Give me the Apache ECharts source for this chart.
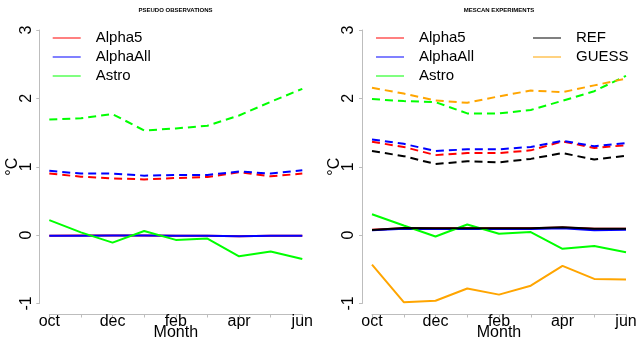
<!DOCTYPE html>
<html>
<head>
<meta charset="utf-8">
<script src="https://cdn.jsdelivr.net/npm/echarts@6/dist/echarts.min.js"></script>
<style>
html,body{margin:0;padding:0;background:#fff;}
#chart{width:636px;height:340px;}
</style>
</head>
<body>
<div id="chart"></div>
<script>
// ---- data ----
var months = ['oct', 'nov', 'dec', 'jan', 'feb', 'mar', 'apr', 'may', 'jun'];
var yTicks = [-1, 0, 1, 2, 3];
var seriesNames = ['Alpha5', 'AlphaAll', 'Astro', 'REF', 'GUESS'];
var panelTitles = ['PSEUDO OBSERVATIONS', 'MESCAN EXPERIMENTS'];
var xAxisTitle = 'Month';
var yAxisTitle = '°C';

// Pseudo observations (left panel)
var obsAlpha5Dashed   = [0.90, 0.855, 0.83, 0.815, 0.835, 0.85, 0.92, 0.86, 0.90];
var obsAlphaAllDashed = [0.94, 0.90, 0.90, 0.87, 0.88, 0.88, 0.93, 0.90, 0.95];
var obsAstroDashed    = [1.69, 1.71, 1.77, 1.53, 1.56, 1.60, 1.75, 1.95, 2.14];
var obsAlpha5Solid    = [-0.01, -0.005, -0.005, -0.005, -0.01, -0.01, -0.015, -0.01, -0.01];
var obsAlphaAllSolid  = [-0.01, -0.01, -0.005, -0.005, -0.01, -0.01, -0.015, -0.01, -0.01];
var obsAstroSolid     = [0.22, 0.04, -0.11, 0.06, -0.07, -0.05, -0.31, -0.24, -0.35];

// MESCAN experiments (right panel)
var mesAlpha5Dashed   = [1.365, 1.29, 1.17, 1.20, 1.20, 1.24, 1.37, 1.275, 1.315];
var mesAlphaAllDashed = [1.40, 1.335, 1.23, 1.255, 1.255, 1.29, 1.38, 1.30, 1.345];
var mesAstroDashed    = [1.99, 1.96, 1.945, 1.78, 1.78, 1.83, 1.965, 2.105, 2.33];
var mesRefDashed      = [1.23, 1.155, 1.04, 1.08, 1.065, 1.115, 1.20, 1.105, 1.16];
var mesGuessDashed    = [2.155, 2.07, 1.97, 1.935, 2.03, 2.115, 2.09, 2.19, 2.29];
var mesAlpha5Solid    = [0.08, 0.10, 0.10, 0.10, 0.10, 0.10, 0.11, 0.095, 0.095];
var mesAlphaAllSolid  = [0.07, 0.095, 0.09, 0.09, 0.09, 0.09, 0.10, 0.07, 0.08];
var mesAstroSolid     = [0.305, 0.14, -0.02, 0.155, 0.02, 0.045, -0.20, -0.16, -0.25];
var mesRefSolid       = [0.075, 0.105, 0.10, 0.10, 0.10, 0.10, 0.115, 0.095, 0.095];
var mesGuessSolid     = [-0.43, -0.98, -0.96, -0.78, -0.87, -0.74, -0.45, -0.64, -0.65];

// ---- styling ----
var colors = {Alpha5: '#ff0000', AlphaAll: '#0000ff', Astro: '#00ff00', REF: '#000000', GUESS: '#ffa500'};
var FONT = 'Liberation Sans, Arial, Helvetica, sans-serif';
var AXIS_GRAY = '#bdbdbd';
var DASH = [8, 5];

function mkSeries(name, data, dashed, idx) {
  return {
    type: 'line', name: name, data: data,
    xAxisIndex: idx, yAxisIndex: idx,
    symbol: 'none', smooth: false,
    itemStyle: {color: colors[name]},
    lineStyle: {color: colors[name], width: 2, type: dashed ? DASH : 'solid', cap: 'butt'},
    emphasis: {disabled: true},
    silent: true
  };
}

function mkX(idx) {
  return {
    type: 'category', gridIndex: idx, data: months, boundaryGap: false,
    offset: 11,
    axisLine: {show: true, onZero: false, lineStyle: {color: AXIS_GRAY, width: 1}},
    axisTick: {show: true, interval: 0, length: 3, lineStyle: {color: AXIS_GRAY}},
    axisLabel: {interval: 1, color: '#000', fontSize: 16, fontFamily: FONT, margin: -1},
    splitLine: {show: false},
    name: xAxisTitle, nameLocation: 'middle', nameGap: 10, nameMoveOverlap: false,
    nameTextStyle: {color: '#000', fontSize: 16, fontFamily: FONT}
  };
}
function mkY(idx) {
  return {
    type: 'value', gridIndex: idx, min: yTicks[0], max: yTicks[yTicks.length - 1], interval: 1,
    offset: 10,
    axisLine: {show: true, onZero: false, lineStyle: {color: AXIS_GRAY, width: 1}},
    axisTick: {show: true, length: 3, lineStyle: {color: AXIS_GRAY}},
    axisLabel: {rotate: 90, color: '#000', fontSize: 16, fontFamily: FONT, margin: 5},
    splitLine: {show: false},
    name: yAxisTitle, nameLocation: 'middle', nameRotate: 90, nameGap: 19, nameMoveOverlap: false,
    nameTextStyle: {color: '#000', fontSize: 16, fontFamily: FONT}
  };
}
function mkLegend(names, left) {
  return {
    data: names, orient: 'vertical', left: left, top: 30.5, padding: 0,
    icon: 'rect', itemWidth: 28, itemHeight: 1, itemGap: 4,
    selectedMode: false,
    textStyle: {color: '#000', fontSize: 15, fontFamily: FONT, padding: [0, 0, 0, 10]}
  };
}

var series = [];
var obsDashed = [obsAlpha5Dashed, obsAlphaAllDashed, obsAstroDashed];
var obsSolid = [obsAlpha5Solid, obsAlphaAllSolid, obsAstroSolid];
for (var i = 0; i < 3; i++) {
  series.push(mkSeries(seriesNames[i], obsDashed[i], true, 0));
  series.push(mkSeries(seriesNames[i], obsSolid[i], false, 0));
}
var mesDashed = [mesAlpha5Dashed, mesAlphaAllDashed, mesAstroDashed, mesRefDashed, mesGuessDashed];
var mesSolid = [mesAlpha5Solid, mesAlphaAllSolid, mesAstroSolid, mesRefSolid, mesGuessSolid];
for (var j = 0; j < 5; j++) {
  series.push(mkSeries(seriesNames[j], mesDashed[j], true, 1));
  series.push(mkSeries(seriesNames[j], mesSolid[j], false, 1));
}

var chart = echarts.init(document.getElementById('chart'), null, {renderer: 'canvas'});
chart.setOption({
  animation: false,
  backgroundColor: '#ffffff',
  title: [
    {text: panelTitles[0], left: 175.5, top: 7, textAlign: 'center', padding: 0,
     textStyle: {fontSize: 6, fontWeight: 'bold', color: '#000', fontFamily: FONT}},
    {text: panelTitles[1], left: 499, top: 7, textAlign: 'center', padding: 0,
     textStyle: {fontSize: 6, fontWeight: 'bold', color: '#000', fontFamily: FONT}}
  ],
  legend: [
    mkLegend(seriesNames.slice(0, 3), 52.7),
    mkLegend(seriesNames.slice(0, 3), 376),
    mkLegend(seriesNames.slice(3, 5), 533)
  ],
  grid: [
    {left: 49.3, top: 30, width: 253, height: 273.5, outerBoundsMode: 'none', containLabel: false},
    {left: 372, top: 30, width: 254, height: 273.5, outerBoundsMode: 'none', containLabel: false}
  ],
  xAxis: [mkX(0), mkX(1)],
  yAxis: [mkY(0), mkY(1)],
  series: series
});
</script>
</body>
</html>
